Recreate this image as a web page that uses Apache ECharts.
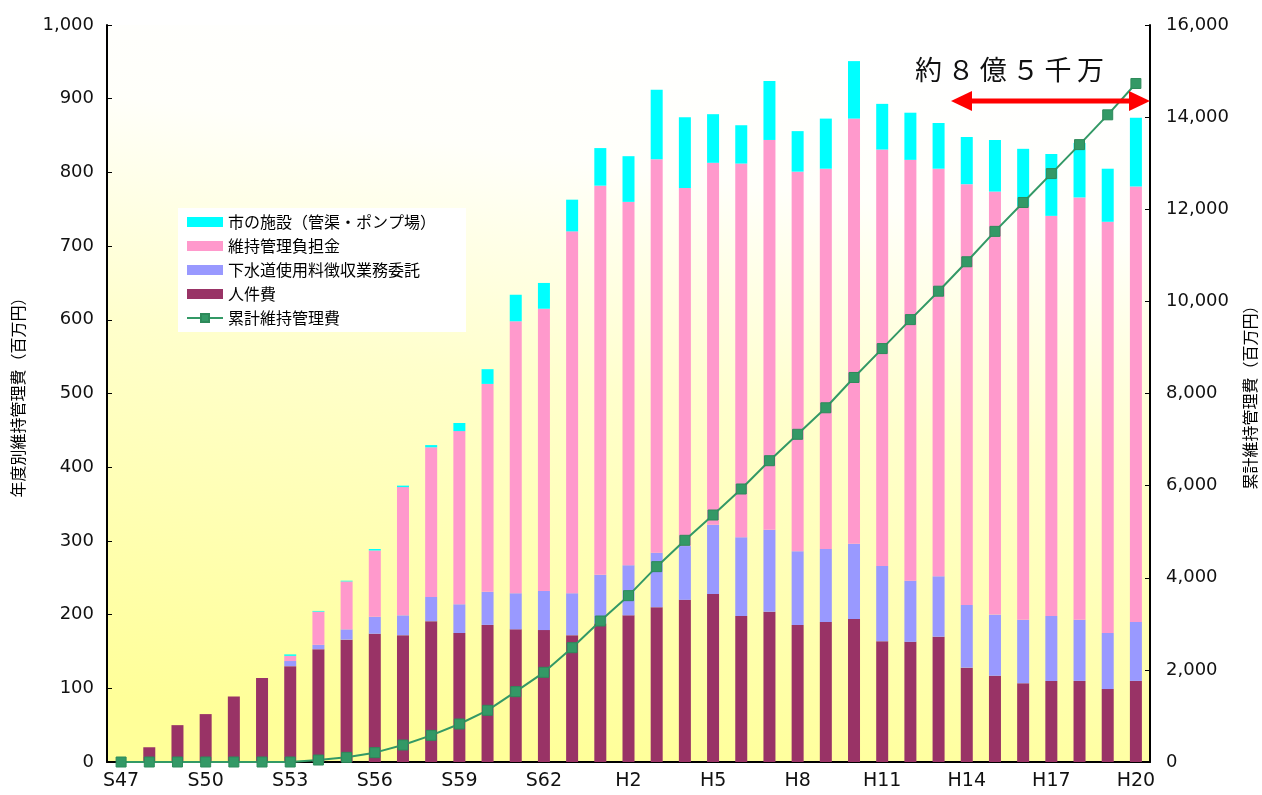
<!DOCTYPE html>
<html>
<head>
<meta charset="utf-8">
<script src="https://cdn.jsdelivr.net/npm/echarts@6/dist/echarts.min.js"></script>
<style>
  html, body { margin: 0; padding: 0; background: #fff; }
  #chart { width: 1262px; height: 795px; }
</style>
</head>
<body>
<div id="chart"></div>
<script>
// 年度（S47〜H20）
const years = [
  'S47','S48','S49','S50','S51','S52','S53','S54','S55','S56','S57','S58','S59','S60','S61','S62','S63',
  'H1','H2','H3','H4','H5','H6','H7','H8','H9','H10','H11','H12','H13','H14','H15','H16','H17','H18','H19','H20'
]

// 人件費
const personnel = [0,20,50,65,89,114,130,153,166,174,172,191,175,186,180,179,172,
  188,199,210,220,228,198,204,186,190,194,164,163,170,128,117,107,110,110,99,110]
// 下水道使用料徴収業務委託
const collection = [0,0,0,0,0,0,7,6,14,23,27,33,39,45,49,53,57,
  66,68,74,73,94,107,111,100,99,102,102,83,82,85,83,86,88,83,76,80]
// 維持管理負担金
const burden = [0,0,0,0,0,0,7,45,65,90,174,203,235,282,369,383,491,
  528,493,534,486,491,507,529,515,516,577,565,571,553,571,574,561,543,573,558,591]
// 市の施設（管渠・ポンプ場）
const facilities = [0,0,0,0,0,0,2,1,1,2,2,3,11,20,36,35,43,
  51,62,94,96,66,52,80,55,68,78,62,64,62,64,70,78,84,74,72,93]
// 累計維持管理費
const cumulative = [0,0,0,0,0,0,0,43,101,203,369,579,825,1122,1527,1947,2482,
  3061,3611,4241,4813,5362,5927,6541,7114,7690,8348,8975,9604,10221,10860,11520,12147,12774,13403,14050,14730]

const chart = echarts.init(document.getElementById('chart'))

const axisFont = { fontFamily: 'DejaVu Sans', fontSize: 18, color: '#111' }
const cjkFont = 'Noto Sans CJK JP'

const barSeries = (name, data, color) => ({
  name: name,
  type: 'bar',
  stack: 'cost',
  barWidth: 12,
  data: data,
  itemStyle: { color: color },
  emphasis: { disabled: true }
})

const option = {
  animation: false,
  grid: {
    left: 107, right: 112, top: 25, bottom: 33,
    containLabel: false,
    outerBoundsMode: 'none',
    show: true,
    borderWidth: 0,
    backgroundColor: new echarts.graphic.LinearGradient(0.55, 0, 0.45, 1, [
      { offset: 0, color: '#ffffff' },
      { offset: 0.2, color: '#fffffa' },
      { offset: 0.5, color: '#ffffcc' },
      { offset: 1, color: '#ffff99' }
    ])
  },
  legend: {
    orient: 'vertical',
    left: 178, top: 208,
    backgroundColor: '#fff',
    padding: [6, 30, 6, 8],
    itemWidth: 36, itemHeight: 10, itemGap: 8,
    textStyle: { fontFamily: cjkFont, fontSize: 16, color: '#000' },
    data: [
      { name: '市の施設（管渠・ポンプ場）', icon: 'rect' },
      { name: '維持管理負担金', icon: 'rect' },
      { name: '下水道使用料徴収業務委託', icon: 'rect' },
      { name: '人件費', icon: 'rect' },
      { name: '累計維持管理費' }
    ]
  },
  xAxis: {
    type: 'category',
    data: years,
    axisLine: { lineStyle: { color: '#000', width: 2 } },
    axisTick: { inside: true, length: 5, interval: 0, lineStyle: { color: '#000' } },
    axisLabel: Object.assign({}, axisFont, { interval: 2, margin: 10, fontSize: 19 })
  },
  yAxis: [
    {
      type: 'value', min: 0, max: 1000, interval: 100,
      name: '年度別維持管理費（百万円）',
      nameLocation: 'middle', nameRotate: 90, nameGap: 81,
      nameTextStyle: { fontFamily: cjkFont, fontSize: 16, color: '#000' },
      axisLine: { show: true, lineStyle: { color: '#000', width: 2 } },
      axisTick: { show: true, inside: true, length: 5, lineStyle: { color: '#000' } },
      splitLine: { show: false },
      axisLabel: Object.assign({ margin: 13, formatter: v => v.toLocaleString('en-US') }, axisFont)
    },
    {
      type: 'value', min: 0, max: 16000, interval: 2000,
      name: '累計維持管理費（百万円）',
      nameLocation: 'middle', nameRotate: 90, nameGap: 92,
      nameTextStyle: { fontFamily: cjkFont, fontSize: 16, color: '#000' },
      axisLine: { show: true, lineStyle: { color: '#000', width: 2 } },
      axisTick: { show: true, inside: true, length: 5, lineStyle: { color: '#000' } },
      splitLine: { show: false },
      axisLabel: Object.assign({ margin: 16, formatter: v => v.toLocaleString('en-US') }, axisFont)
    }
  ],
  series: [
    barSeries('人件費', personnel, '#993366'),
    barSeries('下水道使用料徴収業務委託', collection, '#9999ff'),
    barSeries('維持管理負担金', burden, '#ff99cc'),
    barSeries('市の施設（管渠・ポンプ場）', facilities, '#00ffff'),
    {
      name: '累計維持管理費',
      type: 'line',
      yAxisIndex: 1,
      data: cumulative,
      symbol: 'rect',
      symbolSize: 10,
      z: 5,
      lineStyle: { color: '#339966', width: 2 },
      itemStyle: { color: '#339966', borderColor: '#2d8a5a', borderWidth: 1 },
      emphasis: { disabled: true }
    }
  ],
  graphic: [
    {
      type: 'text', left: 915, top: 56, z: 10,
      style: { text: '約\u2009８\u2009億\u2009５\u2009千\u2009万', fontFamily: cjkFont, fontSize: 27, fill: '#111' }
    },
    {
      type: 'line', z: 10,
      shape: { x1: 966, y1: 101, x2: 1134, y2: 101 },
      style: { stroke: '#ff0000', lineWidth: 5 }
    },
    {
      type: 'polygon', z: 10,
      shape: { points: [[951, 101], [972, 91], [972, 111]] },
      style: { fill: '#ff0000' }
    },
    {
      type: 'polygon', z: 10,
      shape: { points: [[1150, 101], [1129, 91], [1129, 111]] },
      style: { fill: '#ff0000' }
    }
  ]
}

chart.setOption(option)
</script>
</body>
</html>
